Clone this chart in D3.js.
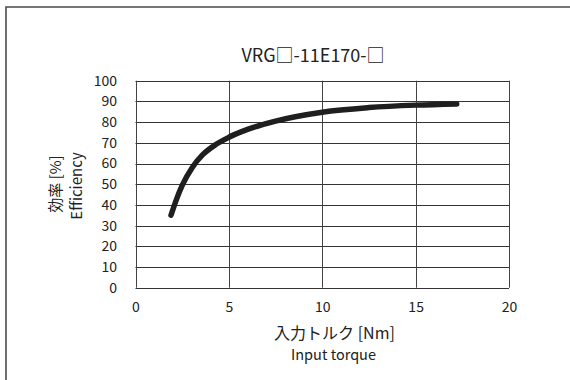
<!DOCTYPE html>
<html><head><meta charset="utf-8">
<script src="https://cdn.jsdelivr.net/npm/d3@7"></script>
<style>
html,body{margin:0;padding:0;background:#fff;}
svg{display:block;}
text{font-family:"Noto Sans CJK JP","Noto Sans",sans-serif;fill:#222;}
</style></head><body>
<svg id="c" width="570" height="380"></svg>
<script>
const title = "VRG\u25A1-11E170-\u25A1";
const xTicks = [0, 5, 10, 15, 20];
const yTicks = [0, 10, 20, 30, 40, 50, 60, 70, 80, 90, 100];
const torque = [1.9, 2.2, 2.5, 3.05, 3.6, 4.3, 5, 6, 7.5, 10, 12.5, 15, 17.2];
const efficiency = [35, 42.8, 49.4, 58.2, 64.25, 69.15, 72.65, 76.45, 80.5, 84.8, 87, 88.2, 88.8];

const svg = d3.select("#c");
const L = 135.5, R = 509, T = 80.7, B = 287.7;
const x = d3.scaleLinear().domain([0, 20]).range([L, R]);
const y = d3.scaleLinear().domain([0, 100]).range([B, T]);

// outer frame
svg.append("path").attr("d", "M6,380 L6,7 L570,7")
  .attr("fill", "none").attr("stroke", "#4a4a4a").attr("stroke-width", 1.6);

// grid
const g = svg.append("g");
g.selectAll("line.h").data(yTicks).join("line")
  .attr("x1", L).attr("x2", R).attr("y1", d => Math.round(y(d)) + 0.5).attr("y2", d => Math.round(y(d)) + 0.5)
  .attr("stroke", "#333").attr("stroke-width", 1);
g.selectAll("line.v").data(xTicks).join("line")
  .attr("y1", T).attr("y2", B).attr("x1", d => Math.round(x(d)) + 0.5).attr("x2", d => Math.round(x(d)) + 0.5)
  .attr("stroke", "#444").attr("stroke-width", 1);

// axes labels
const ya = svg.append("g").attr("transform", `translate(${L},0)`)
  .call(d3.axisLeft(y).tickValues(yTicks).tickSize(0).tickPadding(18.5));
ya.select(".domain").remove();
ya.selectAll("text").attr("font-size", 14).attr("fill", "#222")
  .style("font-family", "'Noto Sans CJK JP', sans-serif");

const xa = svg.append("g").attr("transform", `translate(0,${B})`)
  .call(d3.axisBottom(x).tickValues(xTicks).tickSize(0).tickPadding(14));
xa.select(".domain").remove();
xa.selectAll("text").attr("font-size", 14).attr("fill", "#222")
  .style("font-family", "'Noto Sans CJK JP', sans-serif");

// curve
const line = d3.line().x((d, i) => x(torque[i])).y(d => y(d)).curve(d3.curveMonotoneX);
svg.append("path").datum(efficiency).attr("d", line)
  .attr("fill", "none").attr("stroke", "#1f1f1f").attr("stroke-width", 5.5)
  .attr("stroke-linecap", "round").attr("stroke-linejoin", "round");

// titles
svg.append("text").attr("x", 313).attr("y", 62).attr("text-anchor", "middle")
  .attr("font-size", 18).text(title);
svg.append("text").attr("x", 334.5).attr("y", 339).attr("text-anchor", "middle")
  .attr("font-size", 16).text("入力トルク [Nm]");
svg.append("text").attr("x", 333.5).attr("y", 360).attr("text-anchor", "middle")
  .attr("font-size", 14.5).text("Input torque");
svg.append("text").attr("transform", "translate(61,184) rotate(-90)").attr("text-anchor", "middle")
  .attr("font-size", 15).text("効率 [%]");
svg.append("text").attr("transform", "translate(82,186) rotate(-90)").attr("text-anchor", "middle")
  .attr("font-size", 15).text("Efficiency");
</script></body></html>
